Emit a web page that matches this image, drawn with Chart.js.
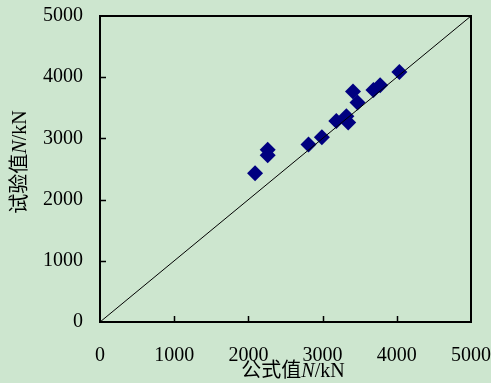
<!DOCTYPE html>
<html>
<head>
<meta charset="utf-8">
<script src="https://cdn.jsdelivr.net/npm/chart.js@4.4.1/dist/chart.umd.min.js"></script>
<style>
  html, body { margin: 0; padding: 0; background: #cde6cf; }
  #wrap { width: 491px; height: 383px; position: relative; }
</style>
</head>
<body>
<div id="wrap"><canvas id="c"></canvas></div>
<script>
// Formula-predicted capacity vs. measured capacity (kN)
const formulaValues = [2090, 2260, 2260, 2810, 2990, 3185, 3320, 3345, 3410, 3470, 3685, 3775, 4035];
const testValues    = [2430, 2815, 2725, 2900, 3020, 3285, 3360, 3260, 3765, 3585, 3790, 3870, 4085];
const tickValues    = [0, 1000, 2000, 3000, 4000, 5000];
const axisMin = 0;
const axisMax = 5000;
const xTitleParts = ['公式值', 'N', '/kN'];
const yTitleParts = ['试验值', 'N', '/kN'];

const BG = '#cde6cf';
const SERIF = '"Liberation Serif", "Times New Roman", serif';
const CJK = '"Noto Sans CJK SC", sans-serif';

const points = formulaValues.map((v, i) => ({ x: v, y: testValues[i] }));
const diagonal = [{ x: axisMin, y: axisMin }, { x: axisMax, y: axisMax }];

// Paint the canvas background
const background = {
  id: 'background',
  beforeDraw(chart) {
    const ctx = chart.ctx;
    ctx.save();
    ctx.fillStyle = BG;
    ctx.fillRect(0, 0, chart.width, chart.height);
    ctx.restore();
  }
};

function drawMixedTitle(ctx, parts, size) {
  const fonts = [
    `${size}px ${CJK}`,
    `italic ${size}px ${SERIF}`,
    `${size}px ${SERIF}`
  ];
  let total = 0;
  const widths = parts.map((p, i) => { ctx.font = fonts[i]; const w = ctx.measureText(p).width; total += w; return w; });
  let x = -total / 2;
  parts.forEach((p, i) => {
    ctx.font = fonts[i];
    ctx.fillText(p, x, 0);
    x += widths[i];
  });
}

// Box frame, inward tick marks and axis titles
const frame = {
  id: 'frame',
  afterDatasetsDraw(chart) {
    const { ctx, chartArea: a, scales } = chart;
    ctx.save();
    ctx.strokeStyle = '#000';
    ctx.lineWidth = 1.5;
    ctx.beginPath();
    tickValues.slice(1, -1).forEach(v => {
      const px = Math.round(scales.x.getPixelForValue(v)) + 0.5;
      ctx.moveTo(px, a.bottom);
      ctx.lineTo(px, a.bottom - 6);
      const py = Math.round(scales.y.getPixelForValue(v)) + 0.5;
      ctx.moveTo(a.left, py);
      ctx.lineTo(a.left + 6, py);
    });
    ctx.stroke();
    ctx.lineWidth = 2;
    ctx.strokeRect(a.left, a.top, a.right - a.left, a.bottom - a.top);

    ctx.fillStyle = '#000';
    ctx.textBaseline = 'alphabetic';
    ctx.textAlign = 'left';
    ctx.save();
    ctx.translate(293, 377);
    drawMixedTitle(ctx, xTitleParts, 20);
    ctx.restore();

    ctx.save();
    ctx.translate(26, 162);
    ctx.rotate(-Math.PI / 2);
    drawMixedTitle(ctx, yTitleParts, 20);
    ctx.restore();
    ctx.restore();
  }
};

const tickFont = { family: SERIF, size: 20 };
const plainLabel = v => String(v);
const fixPadding = s => { s.paddingTop = 0; s.paddingBottom = 0; s.paddingLeft = 0; s.paddingRight = 0; };

new Chart(document.getElementById('c'), {
  type: 'scatter',
  data: {
    datasets: [
      {
        type: 'line',
        data: diagonal,
        borderColor: '#000',
        borderWidth: 1,
        pointRadius: 0,
        fill: false
      },
      {
        data: points,
        pointStyle: 'rectRot',
        pointRadius: 8,
        pointHoverRadius: 8,
        backgroundColor: '#000080',
        borderWidth: 0
      }
    ]
  },
  options: {
    responsive: true,
    maintainAspectRatio: false,
    animation: false,
    events: [],
    layout: { padding: { top: 16, right: 20, left: 0, bottom: 0 } },
    plugins: { legend: { display: false }, tooltip: { enabled: false } },
    scales: {
      x: {
        type: 'linear',
        min: axisMin, max: axisMax,
        afterBuildTicks: s => { s.ticks = tickValues.map(v => ({ value: v })); },
        afterFit: s => { s.height = 61; fixPadding(s); },
        grid: { display: false, drawTicks: false },
        border: { display: false },
        ticks: { font: tickFont, color: '#000', padding: 22, maxRotation: 0, callback: plainLabel }
      },
      y: {
        type: 'linear',
        min: axisMin, max: axisMax,
        afterBuildTicks: s => { s.ticks = tickValues.map(v => ({ value: v })); },
        afterFit: s => { s.width = 100; fixPadding(s); },
        grid: { display: false, drawTicks: false },
        border: { display: false },
        ticks: { font: tickFont, color: '#000', padding: 17, callback: plainLabel }
      }
    }
  },
  plugins: [background, frame]
});
</script>
</body>
</html>
